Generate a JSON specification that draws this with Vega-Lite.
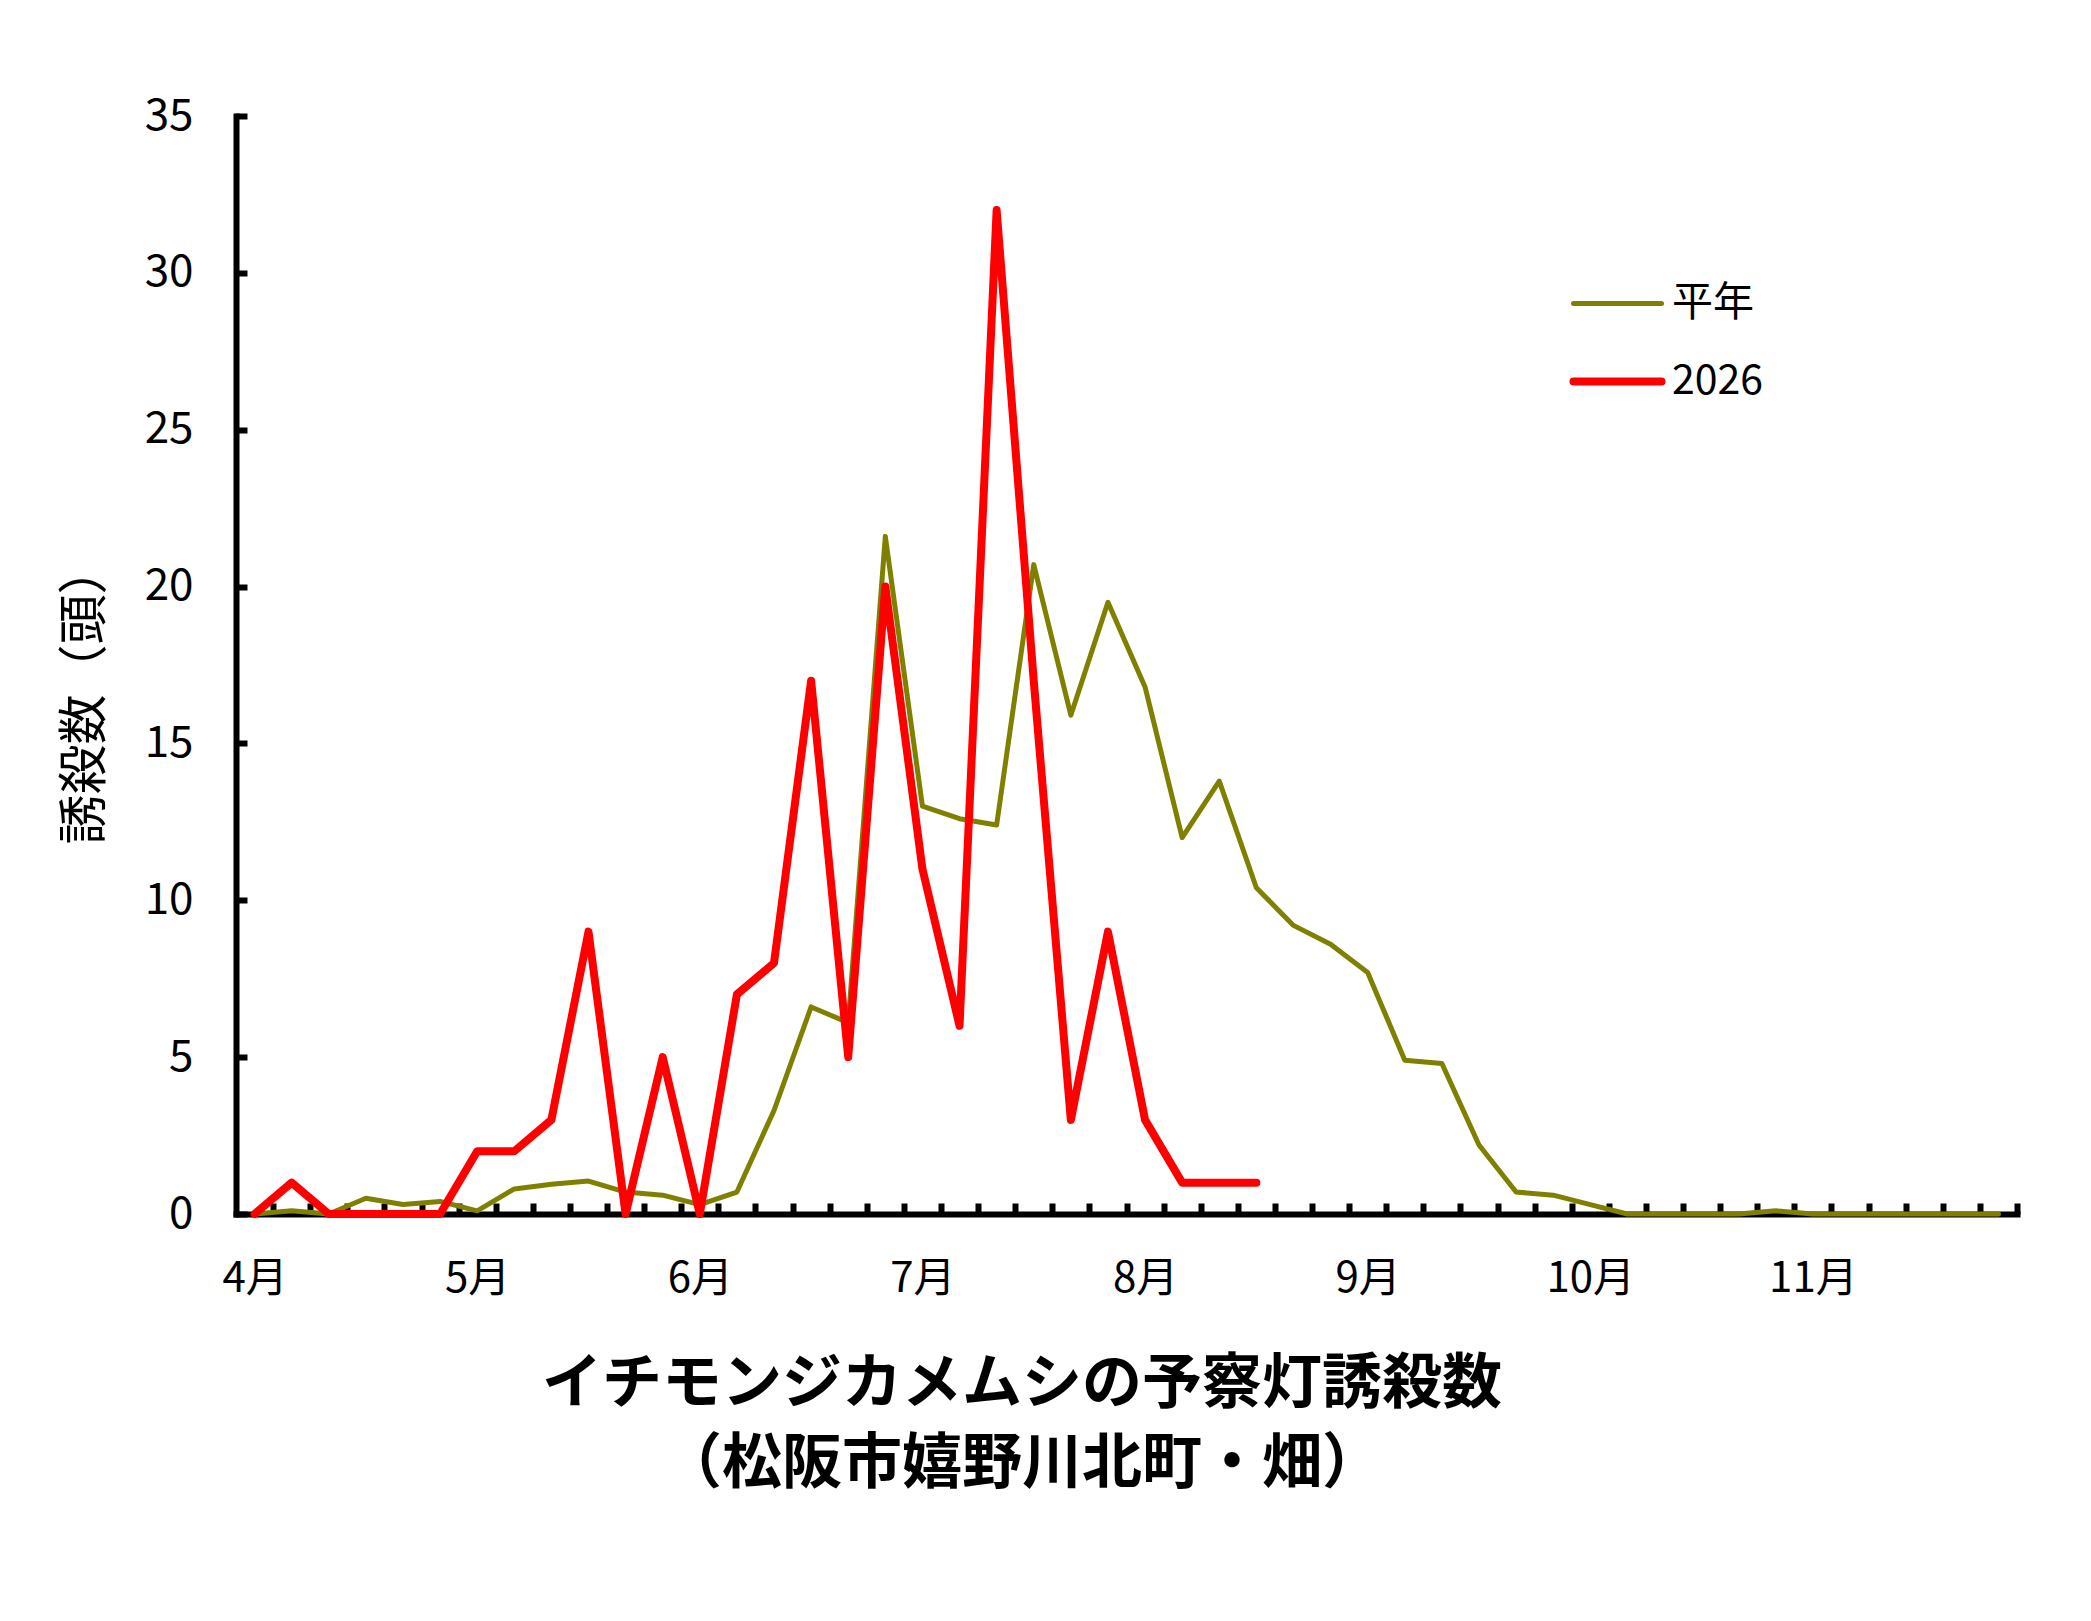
{
  "$schema": "https://vega.github.io/schema/vega-lite/v6.json",
  "width": 1781,
  "height": 1098,
  "autosize": {"type": "none"},
  "padding": {"left": 236, "top": 116, "right": 74, "bottom": 407},
  "background": "white",
  "config": {"view": {"stroke": null}, "font": "Noto Sans CJK JP"},
  "title": {
    "text": ["イチモンジカメムシの予察灯誘殺数", "（松阪市嬉野川北町・畑）"],
    "orient": "bottom",
    "anchor": "middle",
    "frame": "bounds",
    "fontSize": 60,
    "fontWeight": "bold",
    "lineHeight": 80,
    "offset": 57,
    "dx": -18,
    "color": "black",
    "font": "Noto Sans CJK JP"
  },
  "data": {
    "values": [
      {"k": 0, "series": "平年", "value": 0.0},
      {"k": 1, "series": "平年", "value": 0.1},
      {"k": 2, "series": "平年", "value": 0.0},
      {"k": 3, "series": "平年", "value": 0.5},
      {"k": 4, "series": "平年", "value": 0.3},
      {"k": 5, "series": "平年", "value": 0.4},
      {"k": 6, "series": "平年", "value": 0.1},
      {"k": 7, "series": "平年", "value": 0.8},
      {"k": 8, "series": "平年", "value": 0.95},
      {"k": 9, "series": "平年", "value": 1.05},
      {"k": 10, "series": "平年", "value": 0.7},
      {"k": 11, "series": "平年", "value": 0.6},
      {"k": 12, "series": "平年", "value": 0.3},
      {"k": 13, "series": "平年", "value": 0.7},
      {"k": 14, "series": "平年", "value": 3.3},
      {"k": 15, "series": "平年", "value": 6.6},
      {"k": 16, "series": "平年", "value": 6.1},
      {"k": 17, "series": "平年", "value": 21.6},
      {"k": 18, "series": "平年", "value": 13.0},
      {"k": 19, "series": "平年", "value": 12.6},
      {"k": 20, "series": "平年", "value": 12.4},
      {"k": 21, "series": "平年", "value": 20.7},
      {"k": 22, "series": "平年", "value": 15.9},
      {"k": 23, "series": "平年", "value": 19.5},
      {"k": 24, "series": "平年", "value": 16.8},
      {"k": 25, "series": "平年", "value": 12.0},
      {"k": 26, "series": "平年", "value": 13.8},
      {"k": 27, "series": "平年", "value": 10.4},
      {"k": 28, "series": "平年", "value": 9.2},
      {"k": 29, "series": "平年", "value": 8.6},
      {"k": 30, "series": "平年", "value": 7.7},
      {"k": 31, "series": "平年", "value": 4.9},
      {"k": 32, "series": "平年", "value": 4.8},
      {"k": 33, "series": "平年", "value": 2.2},
      {"k": 34, "series": "平年", "value": 0.7},
      {"k": 35, "series": "平年", "value": 0.6},
      {"k": 36, "series": "平年", "value": 0.3},
      {"k": 37, "series": "平年", "value": 0.0},
      {"k": 38, "series": "平年", "value": 0.0},
      {"k": 39, "series": "平年", "value": 0.0},
      {"k": 40, "series": "平年", "value": 0.0},
      {"k": 41, "series": "平年", "value": 0.1},
      {"k": 42, "series": "平年", "value": 0.0},
      {"k": 43, "series": "平年", "value": 0.0},
      {"k": 44, "series": "平年", "value": 0.0},
      {"k": 45, "series": "平年", "value": 0.0},
      {"k": 46, "series": "平年", "value": 0.0},
      {"k": 47, "series": "平年", "value": 0.0},
      {"k": 0, "series": "2026", "value": 0},
      {"k": 1, "series": "2026", "value": 1},
      {"k": 2, "series": "2026", "value": 0},
      {"k": 3, "series": "2026", "value": 0},
      {"k": 4, "series": "2026", "value": 0},
      {"k": 5, "series": "2026", "value": 0},
      {"k": 6, "series": "2026", "value": 2},
      {"k": 7, "series": "2026", "value": 2},
      {"k": 8, "series": "2026", "value": 3},
      {"k": 9, "series": "2026", "value": 9},
      {"k": 10, "series": "2026", "value": 0},
      {"k": 11, "series": "2026", "value": 5},
      {"k": 12, "series": "2026", "value": 0},
      {"k": 13, "series": "2026", "value": 7},
      {"k": 14, "series": "2026", "value": 8},
      {"k": 15, "series": "2026", "value": 17},
      {"k": 16, "series": "2026", "value": 5},
      {"k": 17, "series": "2026", "value": 20},
      {"k": 18, "series": "2026", "value": 11},
      {"k": 19, "series": "2026", "value": 6},
      {"k": 20, "series": "2026", "value": 32},
      {"k": 21, "series": "2026", "value": 17},
      {"k": 22, "series": "2026", "value": 3},
      {"k": 23, "series": "2026", "value": 9},
      {"k": 24, "series": "2026", "value": 3},
      {"k": 25, "series": "2026", "value": 1},
      {"k": 26, "series": "2026", "value": 1},
      {"k": 27, "series": "2026", "value": 1}
    ]
  },
  "encoding": {
    "x": {
      "field": "k",
      "type": "quantitative",
      "scale": {"domain": [-0.5, 47.5], "nice": false, "zero": false},
      "axis": {
        "values": [0, 6, 12, 18, 24, 30, 36, 42, 0.5, 1.5, 2.5, 3.5, 4.5, 5.5, 6.5, 7.5, 8.5, 9.5, 10.5, 11.5, 12.5, 13.5, 14.5, 15.5, 16.5, 17.5, 18.5, 19.5, 20.5, 21.5, 22.5, 23.5, 24.5, 25.5, 26.5, 27.5, 28.5, 29.5, 30.5, 31.5, 32.5, 33.5, 34.5, 35.5, 36.5, 37.5, 38.5, 39.5, 40.5, 41.5, 42.5, 43.5, 44.5, 45.5, 46.5, 47.5],
        "labelExpr": "datum.value % 1 == 0 ? (4 + datum.value / 6) + '月' : ''",
        "tickOpacity": {"condition": {"test": "datum.value % 1 == 0", "value": 0}, "value": 1},
        "tickSize": -11,
        "tickWidth": 6,
        "tickColor": "black",
        "domainColor": "black",
        "domainWidth": 6,
        "domainCap": "square",
        "labelFontSize": 42,
        "labelPadding": 55,
        "labelColor": "black",
        "labelOverlap": false,
        "labelFlush": false,
        "grid": false,
        "title": null
      }
    },
    "y": {
      "field": "value",
      "type": "quantitative",
      "scale": {"domain": [0, 35], "nice": false},
      "axis": {
        "values": [0, 5, 10, 15, 20, 25, 30, 35],
        "tickSize": -11,
        "tickWidth": 6,
        "tickColor": "black",
        "domainColor": "black",
        "domainWidth": 6,
        "domainCap": "square",
        "labelFontSize": 44,
        "labelPadding": 54,
        "labelColor": "black",
        "grid": false,
        "title": "誘殺数（頭）",
        "titleFontSize": 50,
        "titleFontWeight": "normal",
        "titleColor": "black",
        "titlePadding": 34,
        "titleY": 578
      }
    },
    "color": {
      "field": "series",
      "type": "nominal",
      "scale": {"domain": ["平年", "2026"], "range": ["#808000", "#FF0000"]},
      "legend": {
        "orient": "none",
        "legendX": 1361,
        "legendY": 167,
        "title": null,
        "padding": 0,
        "symbolType": "stroke",
        "symbolSize": 7744,
        "labelFontSize": 41,
        "labelColor": "black",
        "labelOffset": 34,
        "rowPadding": 36,
        "encode": {
          "symbols": {
            "update": {
              "strokeWidth": {"signal": "datum.value === '2026' ? 8 : 5"},
              "strokeCap": {"value": "round"}
            }
          }
        }
      }
    }
  },
  "layer": [
    {
      "transform": [{"filter": "datum.series === '平年'"}],
      "mark": {"type": "line", "strokeWidth": 5, "strokeJoin": "round", "strokeCap": "round"}
    },
    {
      "transform": [{"filter": "datum.series === '2026'"}],
      "mark": {"type": "line", "strokeWidth": 8, "strokeJoin": "round", "strokeCap": "round"}
    }
  ]
}
